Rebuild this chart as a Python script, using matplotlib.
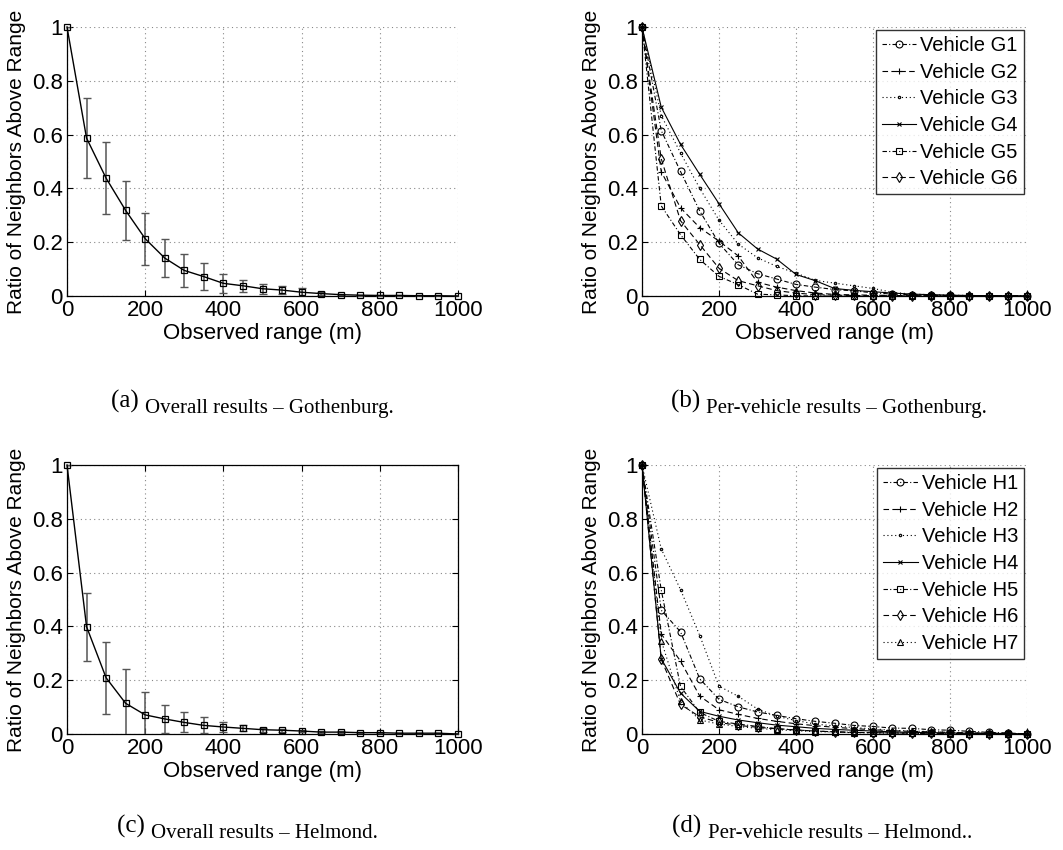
import matplotlib
matplotlib.use("Agg")
import matplotlib.pyplot as plt
from matplotlib.text import Annotation

plt.rcParams['font.family'] = ['Liberation Sans', 'DejaVu Sans']

x_range = list(range(0, 1001, 50))

# Panel (a) overall Gothenburg
a_mean = [1.0, 0.587, 0.438, 0.318, 0.213, 0.141, 0.095, 0.072, 0.047, 0.038, 0.027,
          0.022, 0.014, 0.009, 0.005, 0.003, 0.002, 0.002, 0.001, 0.001, 0.0]
a_err = [0.0, 0.150, 0.133, 0.110, 0.097, 0.070, 0.061, 0.049, 0.035, 0.022, 0.019,
         0.016, 0.016, 0.006, 0.003, 0.002, 0.001, 0.001, 0.001, 0.001, 0.0]

# Panel (c) overall Helmond
c_mean = [1.0, 0.399, 0.209, 0.114, 0.071, 0.056, 0.043, 0.032, 0.026, 0.021, 0.016,
          0.014, 0.011, 0.007, 0.007, 0.005, 0.005, 0.003, 0.003, 0.003, 0.0]
c_err = [0.0, 0.127, 0.133, 0.127, 0.084, 0.052, 0.037, 0.030, 0.019, 0.011, 0.008,
         0.006, 0.005, 0.004, 0.003, 0.002, 0.002, 0.001, 0.001, 0.001, 0.0]

# Panel (b) per-vehicle Gothenburg
g_labels = ["Vehicle G1", "Vehicle G2", "Vehicle G3", "Vehicle G4", "Vehicle G5", "Vehicle G6"]
g1 = [1.0, 0.615, 0.463, 0.316, 0.196, 0.116, 0.083, 0.063, 0.043, 0.033, 0.024,
      0.019, 0.012, 0.007, 0.005, 0.003, 0.002, 0.001, 0.001, 0.001, 0.0]
g2 = [1.0, 0.462, 0.328, 0.254, 0.204, 0.149, 0.051, 0.033, 0.020, 0.011, 0.006,
      0.004, 0.003, 0.002, 0.001, 0.001, 0.0, 0.0, 0.0, 0.0, 0.0]
g3 = [1.0, 0.671, 0.532, 0.400, 0.282, 0.193, 0.142, 0.110, 0.085, 0.058, 0.048,
      0.038, 0.028, 0.014, 0.007, 0.005, 0.003, 0.002, 0.001, 0.001, 0.0]
g4 = [1.0, 0.702, 0.564, 0.452, 0.343, 0.235, 0.175, 0.137, 0.080, 0.057, 0.028,
      0.021, 0.016, 0.011, 0.007, 0.005, 0.003, 0.002, 0.001, 0.001, 0.0]
g5 = [1.0, 0.335, 0.228, 0.136, 0.073, 0.042, 0.007, 0.004, 0.001, 0.0, 0.0,
      0.0, 0.0, 0.0, 0.0, 0.0, 0.0, 0.0, 0.0, 0.0, 0.0]
g6 = [1.0, 0.510, 0.280, 0.191, 0.103, 0.057, 0.038, 0.020, 0.011, 0.005, 0.003,
      0.002, 0.001, 0.001, 0.0, 0.0, 0.0, 0.0, 0.0, 0.0, 0.0]

# Panel (d) per-vehicle Helmond
h_labels = ["Vehicle H1", "Vehicle H2", "Vehicle H3", "Vehicle H4", "Vehicle H5",
            "Vehicle H6", "Vehicle H7"]
h1 = [1.0, 0.460, 0.380, 0.205, 0.129, 0.101, 0.082, 0.069, 0.057, 0.047, 0.040,
      0.032, 0.028, 0.022, 0.021, 0.016, 0.014, 0.010, 0.006, 0.004, 0.0]
h2 = [1.0, 0.372, 0.271, 0.141, 0.090, 0.073, 0.058, 0.047, 0.038, 0.031, 0.025,
      0.020, 0.016, 0.012, 0.010, 0.008, 0.006, 0.004, 0.003, 0.002, 0.0]
h3 = [1.0, 0.688, 0.537, 0.366, 0.178, 0.140, 0.093, 0.066, 0.050, 0.037, 0.030,
      0.024, 0.019, 0.014, 0.011, 0.009, 0.006, 0.004, 0.003, 0.002, 0.0]
h4 = [1.0, 0.280, 0.152, 0.084, 0.066, 0.052, 0.042, 0.033, 0.027, 0.021, 0.017,
      0.014, 0.011, 0.008, 0.006, 0.005, 0.004, 0.003, 0.002, 0.001, 0.0]
h5 = [1.0, 0.535, 0.177, 0.080, 0.047, 0.037, 0.028, 0.020, 0.015, 0.011, 0.008,
      0.006, 0.005, 0.004, 0.003, 0.002, 0.002, 0.001, 0.001, 0.001, 0.0]
h6 = [1.0, 0.277, 0.110, 0.064, 0.043, 0.032, 0.025, 0.019, 0.015, 0.011, 0.008,
      0.006, 0.005, 0.004, 0.003, 0.002, 0.002, 0.001, 0.001, 0.001, 0.0]
h7 = [1.0, 0.347, 0.121, 0.052, 0.037, 0.028, 0.021, 0.016, 0.012, 0.009, 0.007,
      0.005, 0.004, 0.003, 0.002, 0.002, 0.001, 0.001, 0.001, 0.001, 0.0]

x_ticks = [0, 200, 400, 600, 800, 1000]
y_ticks = [0, 0.2, 0.4, 0.6, 0.8, 1]
y_ticklabels = ["0", "0.2", "0.4", "0.6", "0.8", "1"]
x_label = "Observed range (m)"
y_label = "Ratio of Neighbors Above Range"

captions = [("(a)", "Overall results \u2013 Gothenburg."),
            ("(b)", "Per-vehicle results \u2013 Gothenburg."),
            ("(c)", "Overall results \u2013 Helmond."),
            ("(d)", "Per-vehicle results \u2013 Helmond..")]

W, H = 1063, 850
fig = plt.figure(figsize=(W / 100, H / 100), dpi=100)

FS = 16
YFS = 15
LFS = 14.5
SERIF = ['Liberation Serif', 'DejaVu Serif']


def px_axes(x0, y0, x1, y1):
    return fig.add_axes([x0 / W, 1 - y1 / H, (x1 - x0) / W, (y1 - y0) / H])


def style(ax, box=False):
    ax.set_xlim(0, 1000)
    ax.set_ylim(0, 1)
    ax.set_xticks(x_ticks)
    ax.set_yticks(y_ticks)
    ax.set_yticklabels(y_ticklabels)
    ax.tick_params(direction='in', length=4, labelsize=FS, pad=3, width=0.8,
                   top=box, right=box)
    ax.grid(True, linestyle=(0, (1, 3)), color='#888888', linewidth=0.8)
    for s in ['top', 'right']:
        ax.spines[s].set_visible(box)
    for s in ax.spines.values():
        s.set_linewidth(0.9)
    ax.set_xlabel(x_label, fontsize=FS, labelpad=1)
    ax.set_ylabel(y_label, fontsize=YFS, labelpad=4)


ax_a = px_axes(67, 27, 458, 296)
ax_b = px_axes(642, 27, 1027, 296)
ax_c = px_axes(67, 465, 458, 734)
ax_d = px_axes(642, 465, 1027, 734)

# Overall panels
for ax, m, e, box in [(ax_a, a_mean, a_err, False), (ax_c, c_mean, c_err, True)]:
    style(ax, box)
    ax.errorbar(x_range, m, yerr=e, fmt='none', ecolor='#555555', elinewidth=1.1,
                capsize=3, capthick=1.0, zorder=3)
    ax.plot(x_range, m, color='black', linewidth=1.0, marker='s', markersize=4.5,
            markerfacecolor='none', markeredgewidth=0.9, zorder=4, clip_on=False)

v_styles = [('o', (0, (4, 2, 1, 2)), 5), ('+', (0, (5, 3)), 5), ('.', (0, (1, 2.5)), 3.5),
            ('x', '-', 2.5), ('s', (0, (4, 2, 1, 2)), 5), ('d', (0, (5, 3)), 5),
            ('^', (0, (1, 2.5)), 5)]


def per_vehicle(ax, labels, series):
    style(ax)
    for lab, ser, (mk, ls, ms) in zip(labels, series, v_styles):
        ax.plot(x_range, ser, color='black', linestyle=ls, linewidth=0.8, marker=mk,
                markersize=ms, markerfacecolor='none', markeredgewidth=0.8,
                label=lab, clip_on=False)
    leg = ax.legend(loc='upper right', fontsize=LFS, frameon=True, fancybox=False,
                    edgecolor='black', handlelength=1.7, handletextpad=0.2,
                    borderpad=0.3, labelspacing=0.38, borderaxespad=0.15)
    leg.get_frame().set_linewidth(1.0)


per_vehicle(ax_b, g_labels, [g1, g2, g3, g4, g5, g6])
per_vehicle(ax_d, h_labels, [h1, h2, h3, h4, h5, h6, h7])

# Captions
cap_pos = [(111, 408), (671, 408), (117, 833), (672, 833)]
for (lbl, txt), (cx, cy) in zip(captions, cap_pos):
    t = fig.text(cx / W, 1 - cy / H, lbl + " ", fontsize=18, family=SERIF,
                 va='baseline', ha='left')
    fig.add_artist(Annotation(txt, xy=(1, 0), xycoords=t, fontsize=15, family=SERIF,
                              va='baseline', ha='left', annotation_clip=False))

fig.savefig("out.png", dpi=100)
